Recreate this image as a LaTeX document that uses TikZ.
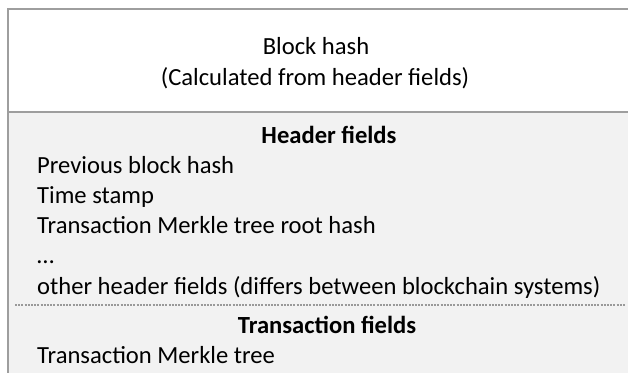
\documentclass[tikz,border=0pt]{standalone}
\usepackage{fontspec}
\setmainfont{Carlito}
\begin{document}
\begin{tikzpicture}[x=1bp,y=-1bp,
  frameline/.style={draw=black!38,line width=1.6bp},
  sepline/.style={draw=black!40,line width=1.2bp,dash pattern=on 2bp off 1.2bp},
  txt/.style={font=\fontsize{24.7}{28}\selectfont,inner sep=0pt},
  entry/.style={txt,anchor=base west},
  title/.style={txt,anchor=base,font=\fontsize{24.7}{28}\selectfont\bfseries}]
\useasboundingbox (0,0) rectangle (628,373);
\fill[white] (0,0) rectangle (628,373);
% shaded field area
\fill[black!5] (8,112) rectangle (628,373);
% frame
\draw[frameline] (628,9) -- (8,9) -- (8,373);
\draw[frameline] (8,112) -- (628,112);
\draw[sepline] (15,305) -- (626,305);
% hash section
\node[txt,anchor=base] (hash) at (316,54) {Block hash};
\node[txt,anchor=base] (calc) at (315,85) {(Calculated from header fields)};
% header section
\node[title] (hdr) at (329,143) {Header fields};
\node[entry] (prev) at (37,173) {Previous block hash};
\node[entry] (time) at (37,203) {Time stamp};
\node[entry] (root) at (37,233) {Transaction Merkle tree root hash};
\node[entry] (dots) at (37,263) {\dots};
\node[entry] (other) at (37,294) {other header fields (differs between blockchain systems)};
% transaction section
\node[title] (tx) at (327,333) {Transaction fields};
\node[entry] (tree) at (37,363) {Transaction Merkle tree};
\end{tikzpicture}
\end{document}
